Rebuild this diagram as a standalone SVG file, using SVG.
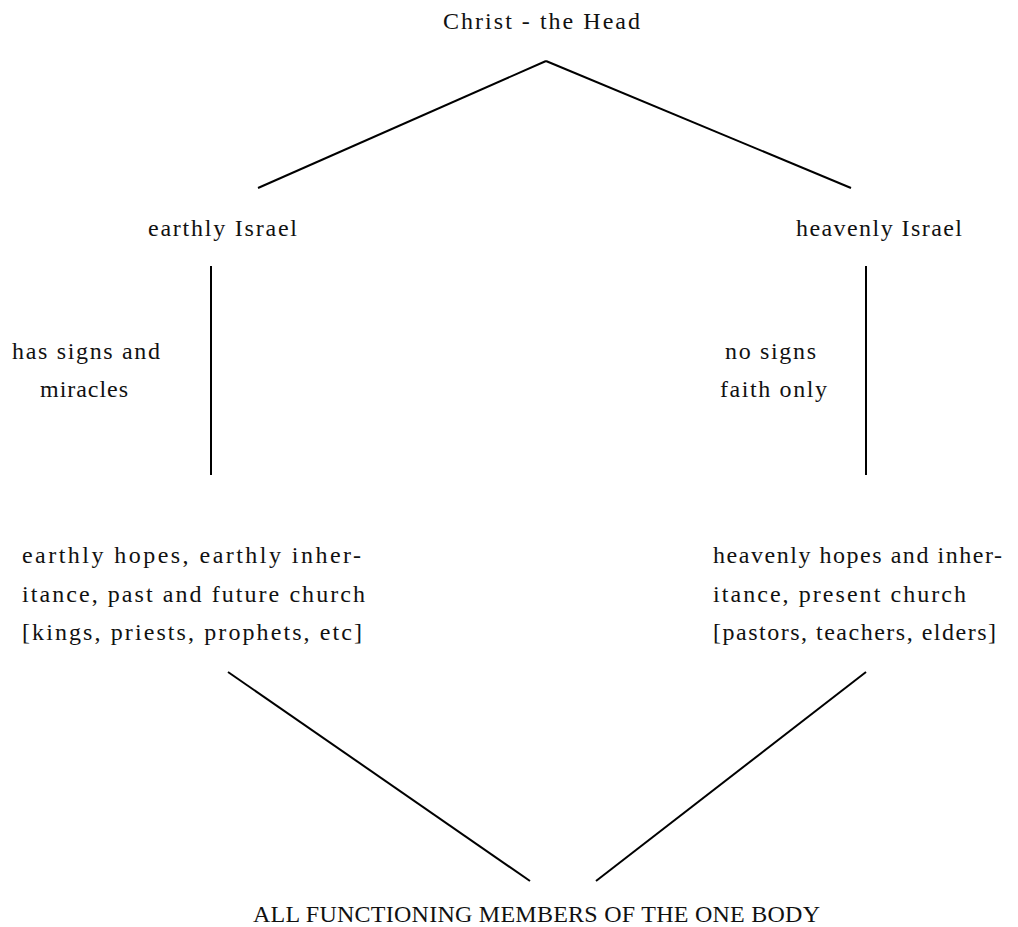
<svg xmlns="http://www.w3.org/2000/svg" width="1018" height="927" viewBox="0 0 1018 927">
<style>
text{font-family:"Liberation Serif","DejaVu Serif",serif;font-size:24px;fill:#111}
.c line{stroke:#000;stroke-width:2;fill:none}
</style>
<rect width="1018" height="927" fill="#fff"/>
<g class="c" id="connectors">
<line x1="546" y1="61" x2="258" y2="188"/>
<line x1="546" y1="61" x2="851" y2="188"/>
<line x1="211" y1="266" x2="211" y2="475"/>
<line x1="866" y1="266" x2="866" y2="475"/>
<line x1="228" y1="672" x2="530" y2="881"/>
<line x1="866" y1="672" x2="596" y2="881"/>
</g>
<g id="head"><text x="443" y="29" textLength="197" lengthAdjust="spacing">Christ - the Head</text></g>
<g id="earthly"><text x="148" y="236" textLength="149" lengthAdjust="spacing">earthly Israel</text></g>
<g id="heavenly"><text x="796" y="236" textLength="166" lengthAdjust="spacing">heavenly Israel</text></g>
<g id="signs"><text x="12" y="359" textLength="148" lengthAdjust="spacing">has signs and</text><text x="40" y="397" textLength="88" lengthAdjust="spacing">miracles</text></g>
<g id="nosigns"><text x="725" y="359" textLength="91" lengthAdjust="spacing">no signs</text><text x="720" y="397" textLength="107" lengthAdjust="spacing">faith only</text></g>
<g id="earthlyhopes"><text x="22" y="563" textLength="339" lengthAdjust="spacing">earthly hopes, earthly inher-</text><text x="22" y="602" textLength="343" lengthAdjust="spacing">itance, past and future church</text><text x="22" y="640" textLength="340" lengthAdjust="spacing">[kings, priests, prophets, etc]</text></g>
<g id="heavenlyhopes"><text x="713" y="563" textLength="289" lengthAdjust="spacing">heavenly hopes and inher-</text><text x="713" y="602" textLength="253" lengthAdjust="spacing">itance, present church</text><text x="713" y="640" textLength="283" lengthAdjust="spacing">[pastors, teachers, elders]</text></g>
<g id="all"><text x="253" y="922" textLength="567" lengthAdjust="spacing">ALL FUNCTIONING MEMBERS OF THE ONE BODY</text></g>
</svg>
